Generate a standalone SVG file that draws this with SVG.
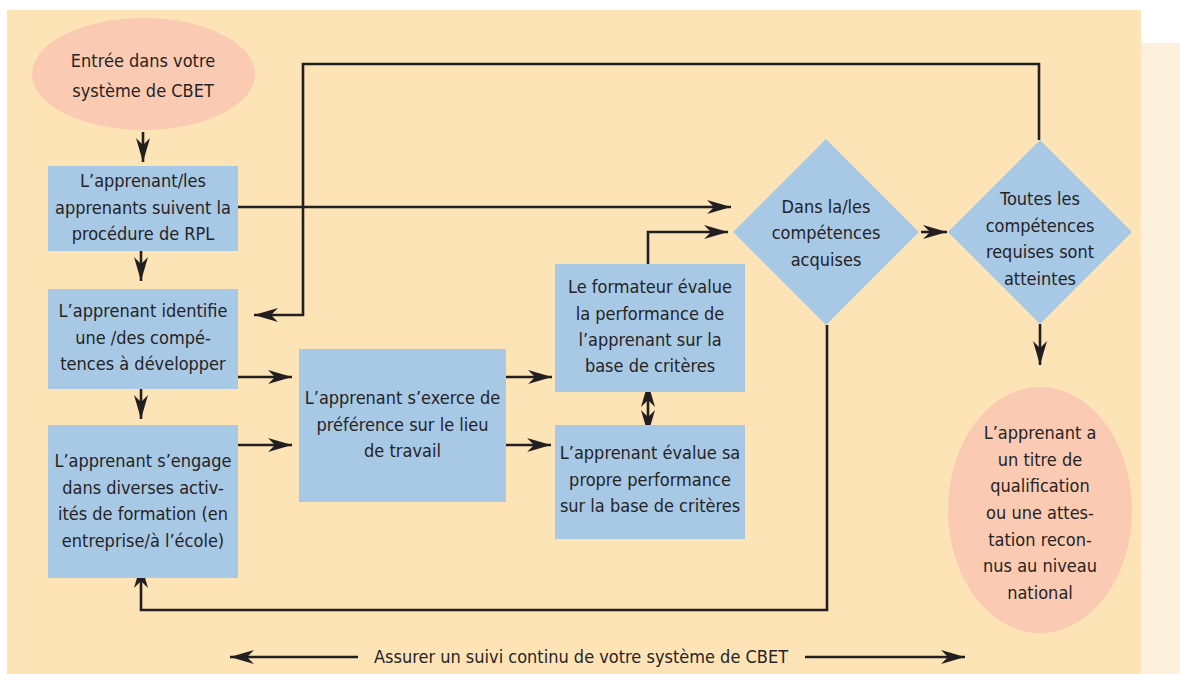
<svg xmlns="http://www.w3.org/2000/svg" width="1180" height="674" viewBox="0 0 1180 674">
  <style>
    .bg { fill: #fde4b7; }
    .side { fill: #fdf0dc; }
    .box { fill: #a7c9e6; }
    .oval { fill: #facbb2; }
    .lbl { font-family: "Liberation Sans Narrow", "DejaVu Sans Condensed", sans-serif; font-size: 18px; fill: #262324; text-anchor: middle; }
    .wire { fill: none; stroke: #231f20; stroke-width: 2.6; }
  </style>
  <defs>
    <marker id="head" viewBox="-24 -8 26 16" refX="0" refY="0" markerWidth="26" markerHeight="16" markerUnits="userSpaceOnUse" orient="auto-start-reverse">
      <path d="M-24,-7 L0,0 L-24,7 L-17,0 Z" fill="#231f20"/>
    </marker>
  </defs>

  <!-- panels -->
  <rect class="bg" x="7" y="10" width="1134" height="664"/>
  <rect class="side" x="1141" y="43" width="39" height="631"/>

  <!-- connectors -->
  <g id="connectors">
    <path class="wire" d="M143,132 V162" marker-end="url(#head)"/>
    <path class="wire" d="M141,251 V281" marker-end="url(#head)"/>
    <path class="wire" d="M141,389 V419" marker-end="url(#head)"/>
    <path class="wire" d="M238,207 H731" marker-end="url(#head)"/>
    <path class="wire" d="M1039,140 V64 H303 V315 H254" marker-end="url(#head)"/>
    <path class="wire" d="M238,377 H292" marker-end="url(#head)"/>
    <path class="wire" d="M238,445 H292" marker-end="url(#head)"/>
    <path class="wire" d="M506,377 H552" marker-end="url(#head)"/>
    <path class="wire" d="M506,445 H551" marker-end="url(#head)"/>
    <path class="wire" d="M648,264 V232 H728" marker-end="url(#head)"/>
    <path class="wire" d="M648,383 V434" marker-start="url(#head)" marker-end="url(#head)"/>
    <path class="wire" d="M921,232 H947" marker-end="url(#head)"/>
    <path class="wire" d="M1040,324 V365" marker-end="url(#head)"/>
    <path class="wire" d="M827,325 V610 H141 V564" marker-end="url(#head)"/>
    <path class="wire" d="M358,657 H230" marker-end="url(#head)"/>
    <path class="wire" d="M805,657 H965" marker-end="url(#head)"/>
  </g>

  <g id="entry">
    <ellipse class="oval" cx="143.5" cy="74" rx="111.5" ry="56"/>
    <text class="lbl" x="143" y="67">Entrée dans votre</text>
    <text class="lbl" x="143" y="97">système de CBET</text>
  </g>

  <g id="rpl">
    <rect class="box" x="48" y="166" width="190" height="85"/>
    <text class="lbl" x="143" y="187">L’apprenant/les</text>
    <text class="lbl" x="143" y="213.5">apprenants suivent la</text>
    <text class="lbl" x="143" y="240">procédure de RPL</text>
  </g>

  <g id="identify">
    <rect class="box" x="48" y="289" width="190" height="100"/>
    <text class="lbl" x="143" y="317">L’apprenant identifie</text>
    <text class="lbl" x="143" y="343.5">une /des compé-</text>
    <text class="lbl" x="143" y="370">tences à développer</text>
  </g>

  <g id="engage">
    <rect class="box" x="48" y="425" width="190" height="153"/>
    <text class="lbl" x="143" y="467">L’apprenant s’engage</text>
    <text class="lbl" x="143" y="493.5">dans diverses activ-</text>
    <text class="lbl" x="143" y="520">ités de formation (en</text>
    <text class="lbl" x="143" y="546.5">entreprise/à l’école)</text>
  </g>

  <g id="practice">
    <rect class="box" x="299" y="349" width="207" height="153"/>
    <text class="lbl" x="402.5" y="404">L’apprenant s’exerce de</text>
    <text class="lbl" x="402.5" y="430.5">préférence sur le lieu</text>
    <text class="lbl" x="402.5" y="457">de travail</text>
  </g>

  <g id="trainer">
    <rect class="box" x="555" y="264" width="190" height="128"/>
    <text class="lbl" x="650" y="293">Le formateur évalue</text>
    <text class="lbl" x="650" y="319.5">la performance de</text>
    <text class="lbl" x="650" y="346">l’apprenant sur la</text>
    <text class="lbl" x="650" y="372">base de critères</text>
  </g>

  <g id="self">
    <rect class="box" x="555" y="425" width="190" height="114"/>
    <text class="lbl" x="650" y="459">L’apprenant évalue sa</text>
    <text class="lbl" x="650" y="485.5">propre performance</text>
    <text class="lbl" x="650" y="512">sur la base de critères</text>
  </g>

  <g id="acquired">
    <polygon class="box" points="826,139 919,232 826,325 733,232"/>
    <text class="lbl" x="826" y="212.5">Dans la/les</text>
    <text class="lbl" x="826" y="239">compétences</text>
    <text class="lbl" x="826" y="265.5">acquises</text>
  </g>

  <g id="all-reached">
    <polygon class="box" points="1040,140 1132,232 1040,324 948,232"/>
    <text class="lbl" x="1040" y="205">Toutes les</text>
    <text class="lbl" x="1040" y="231.5">compétences</text>
    <text class="lbl" x="1040" y="258">requises sont</text>
    <text class="lbl" x="1040" y="284.5">atteintes</text>
  </g>

  <g id="qualification">
    <ellipse class="oval" cx="1040" cy="510" rx="92" ry="123"/>
    <text class="lbl" x="1040" y="439">L’apprenant a</text>
    <text class="lbl" x="1040" y="465.5">un titre de</text>
    <text class="lbl" x="1040" y="492">qualification</text>
    <text class="lbl" x="1040" y="519">ou une attes-</text>
    <text class="lbl" x="1040" y="545.5">tation recon-</text>
    <text class="lbl" x="1040" y="572">nus au niveau</text>
    <text class="lbl" x="1040" y="599">national</text>
  </g>

  <g id="monitoring">
    <text class="lbl" x="581" y="663">Assurer un suivi continu de votre système de CBET</text>
  </g>
</svg>
